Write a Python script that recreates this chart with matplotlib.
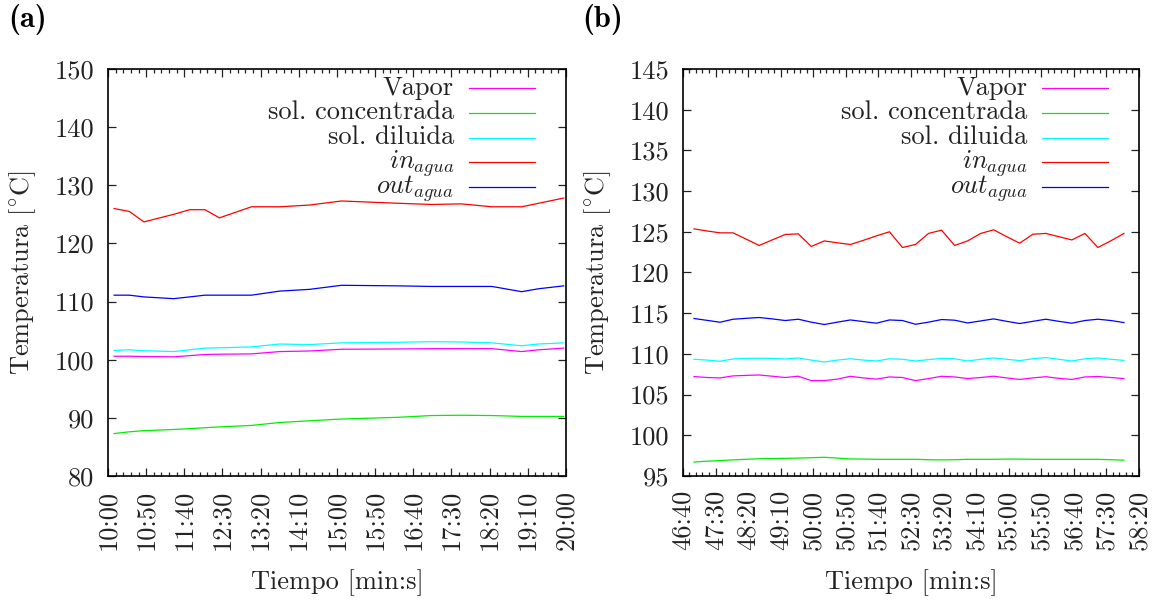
import numpy as np
import matplotlib
matplotlib.use("Agg")
import matplotlib.pyplot as plt
from matplotlib.ticker import MultipleLocator, FuncFormatter

plt.rcParams['font.family'] = 'cmr10'
plt.rcParams['mathtext.fontset'] = 'cm'
plt.rcParams['axes.unicode_minus'] = False

# --- panel (a) : tiempo en segundos ---
t_a = [608, 628, 647, 686, 707, 727, 746, 788, 825, 864, 906, 981, 1024, 1063, 1103, 1142, 1164, 1197]
vapor_a = [100.6, 100.6, 100.55, 100.5, 100.7, 100.9, 100.95, 101.0, 101.4, 101.5, 101.8, 101.85, 101.9, 101.9, 101.9, 101.4, 101.7, 102.0]
conc_a = [87.3, 87.6, 87.8, 88.0, 88.15, 88.3, 88.45, 88.7, 89.2, 89.5, 89.8, 90.1, 90.4, 90.45, 90.4, 90.25, 90.25, 90.25]
dil_a = [101.6, 101.7, 101.55, 101.4, 101.7, 102.0, 102.05, 102.2, 102.7, 102.6, 102.9, 103.0, 103.1, 103.05, 102.9, 102.4, 102.7, 102.9]
in_a = [126.0, 125.5, 123.7, 125.0, 125.8, 125.8, 124.4, 126.3, 126.3, 126.6, 127.3, 126.9, 126.7, 126.8, 126.3, 126.3, 126.9, 127.8]
out_a = [111.1, 111.1, 110.8, 110.5, 110.8, 111.1, 111.1, 111.1, 111.8, 112.1, 112.8, 112.7, 112.6, 112.6, 112.6, 111.7, 112.2, 112.7]

# --- panel (b) ---
t_b = [2817, 2837, 2857, 2877, 2897, 2917, 2937, 2957, 2977, 2997, 3017, 3037, 3057, 3077, 3097, 3117, 3137,
       3157, 3177, 3197, 3217, 3237, 3257, 3277, 3297, 3317, 3337, 3357, 3377, 3397, 3417, 3437, 3457, 3477]
vapor_b = [107.22, 107.1, 107.05, 107.3, 107.36, 107.41, 107.26, 107.1, 107.26, 106.72, 106.72, 106.9, 107.25, 107.05,
           106.9, 107.17, 107.1, 106.72, 106.97, 107.25, 107.17, 106.97, 107.1, 107.26, 107.05, 106.86, 107.05, 107.2,
           107.0, 106.86, 107.17, 107.22, 107.1, 106.97]
conc_b = [96.72, 96.82, 96.9, 96.98, 97.05, 97.12, 97.15, 97.17, 97.2, 97.25, 97.3, 97.2, 97.1, 97.08, 97.05, 97.05, 97.05,
          97.05, 97.0, 96.98, 97.0, 97.05, 97.05, 97.05, 97.08, 97.08, 97.05, 97.05, 97.05, 97.05, 97.05, 97.05, 97.0, 96.95]
dil_b = [109.34, 109.24, 109.1, 109.38, 109.45, 109.47, 109.45, 109.38, 109.5, 109.24, 109.01, 109.24, 109.4, 109.24,
         109.13, 109.4, 109.34, 109.13, 109.3, 109.45, 109.4, 109.13, 109.34, 109.5, 109.34, 109.18, 109.4, 109.55,
         109.34, 109.13, 109.4, 109.5, 109.34, 109.2]
in_b = [125.36, 125.1, 124.87, 124.87, 124.1, 123.32, 124.0, 124.67, 124.75, 123.2, 123.88, 123.65, 123.44, 123.95,
        124.5, 125.0, 123.07, 123.44, 124.8, 125.2, 123.32, 123.88, 124.8, 125.24, 124.4, 123.6, 124.7, 124.8, 124.4,
        124.0, 124.8, 123.07, 123.9, 124.8]
out_b = [114.35, 114.12, 113.89, 114.26, 114.37, 114.47, 114.3, 114.1, 114.26, 113.9, 113.61, 113.9, 114.17, 113.97,
         113.77, 114.17, 114.1, 113.64, 113.9, 114.22, 114.14, 113.8, 114.05, 114.3, 114.0, 113.73, 114.0, 114.26,
         114.0, 113.77, 114.1, 114.26, 114.1, 113.85]

etiquetas = ['Vapor', 'sol. concentrada', 'sol. diluida', r'$in_{agua}$', r'$out_{agua}$']
colores = ['#ff00ff', '#00ee00', '#00ffff', '#ff0000', '#0000ff']

FS = 19
GRIS = '#222222'


def mmss(t, pos):
    t = int(round(t))
    return "%d:%02d" % (t // 60, t % 60)


def panel(ax, t, series, xlim, ylim, ystep):
    for y, c in zip(series, colores):
        ax.plot(t, y, color=c, lw=0.9)
    ax.set_xlim(*xlim)
    ax.set_ylim(*ylim)
    ax.xaxis.set_major_locator(MultipleLocator(50))
    ax.xaxis.set_minor_locator(MultipleLocator(10))
    ax.yaxis.set_major_locator(MultipleLocator(ystep))
    ax.xaxis.set_major_formatter(FuncFormatter(mmss))
    ax.tick_params(which='both', direction='in', top=True, right=True, labelsize=FS,
                   colors=GRIS, width=0.9)
    ax.tick_params(which='major', length=6)
    ax.tick_params(which='minor', length=3)
    ax.tick_params(axis='x', labelrotation=90, pad=10)
    ax.tick_params(axis='y', pad=10)
    for s in ax.spines.values():
        s.set_linewidth(1.2)
    ax.set_xlabel('Tiempo [min:s]', fontsize=FS, color=GRIS, labelpad=14)
    ax.set_ylabel(r'Temperatura [$^{\circ}$C]', fontsize=FS, color=GRIS, labelpad=12)

    # leyenda a mano (texto a la izquierda, linea a la derecha, como gnuplot)
    y0, dy = 0.9526, 0.0605
    for i, (lab, c) in enumerate(zip(etiquetas, colores)):
        yy = y0 - i * dy
        ax.plot([0.788, 0.932], [yy, yy], color=c, lw=0.9, transform=ax.transAxes)
        ax.text(0.7555, yy - 0.016, lab, transform=ax.transAxes, ha='right', va='baseline',
                fontsize=FS, color=GRIS)


fig = plt.figure(figsize=(11.55, 6.03), dpi=100)
ax1 = fig.add_axes([0.0935, 0.2106, 0.3965, 0.6750])
ax2 = fig.add_axes([0.5913, 0.2106, 0.3948, 0.6750])

panel(ax1, t_a, [vapor_a, conc_a, dil_a, in_a, out_a], (600, 1200), (80, 150), 10)
panel(ax2, t_b, [vapor_b, conc_b, dil_b, in_b, out_b], (2800, 3500), (95, 145), 5)

fig.text(0.007, 0.968, '(a)', fontsize=22, family='cmb10', va='center')
fig.text(0.504, 0.968, '(b)', fontsize=22, family='cmb10', va='center')

fig.savefig('out.png', dpi=100)
